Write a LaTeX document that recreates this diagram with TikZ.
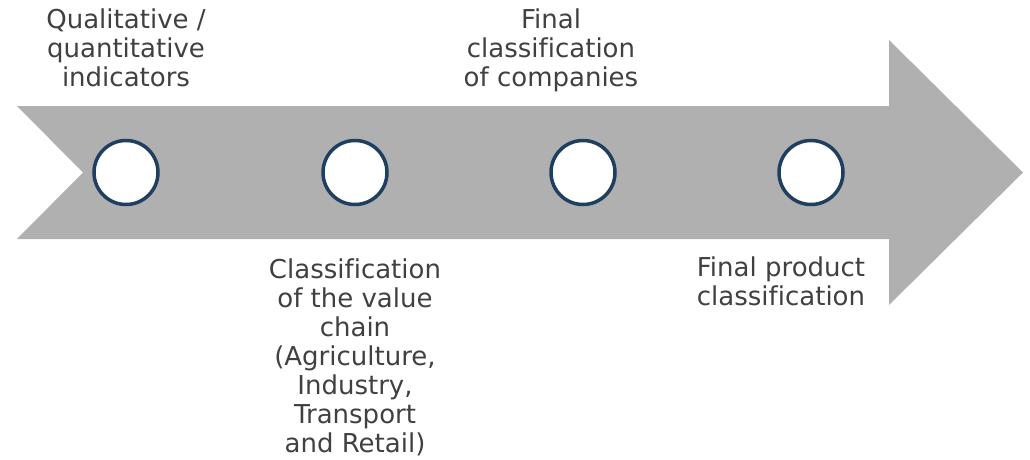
\documentclass[tikz,border=0pt]{standalone}
\usepackage{fontspec}
\setmainfont{DejaVu Sans}[Ligatures=NoCommon]
\usetikzlibrary{positioning}
\definecolor{arrowgray}{RGB}{176,176,176}
\definecolor{ringblue}{RGB}{31,63,96}
\definecolor{textgray}{RGB}{64,64,64}

\begin{document}
\begin{tikzpicture}[x=1pt,y=-1pt,
    ring/.style={circle,draw=ringblue,fill=white,line width=3.5pt,minimum size=64pt,inner sep=0pt},
    lbl/.style={text=textgray,align=center,inner sep=0pt,font=\fontsize{26}{29}\selectfont}]
  \useasboundingbox (0,0) rectangle (1030,459);
  \fill[arrowgray] (17,106) -- (889,106) -- (889,40) -- (1023,172.5) -- (889,305)
    -- (889,239) -- (17,239) -- (83,172.5) -- cycle;
  \foreach \i/\x in {1/126,2/355,3/583,4/811}
    \node[ring] (c\i) at (\x,172.5) {};
  % anchor base = baseline of the last line
  \node[lbl,anchor=base] (l1) at (126,86) {Qualitative /\\quantitative\\indicators};
  \node[lbl,anchor=base] (l2) at (355,452) {Classification\\of the value\\chain\\(Agriculture,\\Industry,\\Transport\\and Retail)};
  \node[lbl,anchor=base] (l3) at (551,86) {Final\\classification\\of companies};
  \node[lbl,anchor=base] (l4) at (781,305) {Final product\\classification};
\end{tikzpicture}
\end{document}
